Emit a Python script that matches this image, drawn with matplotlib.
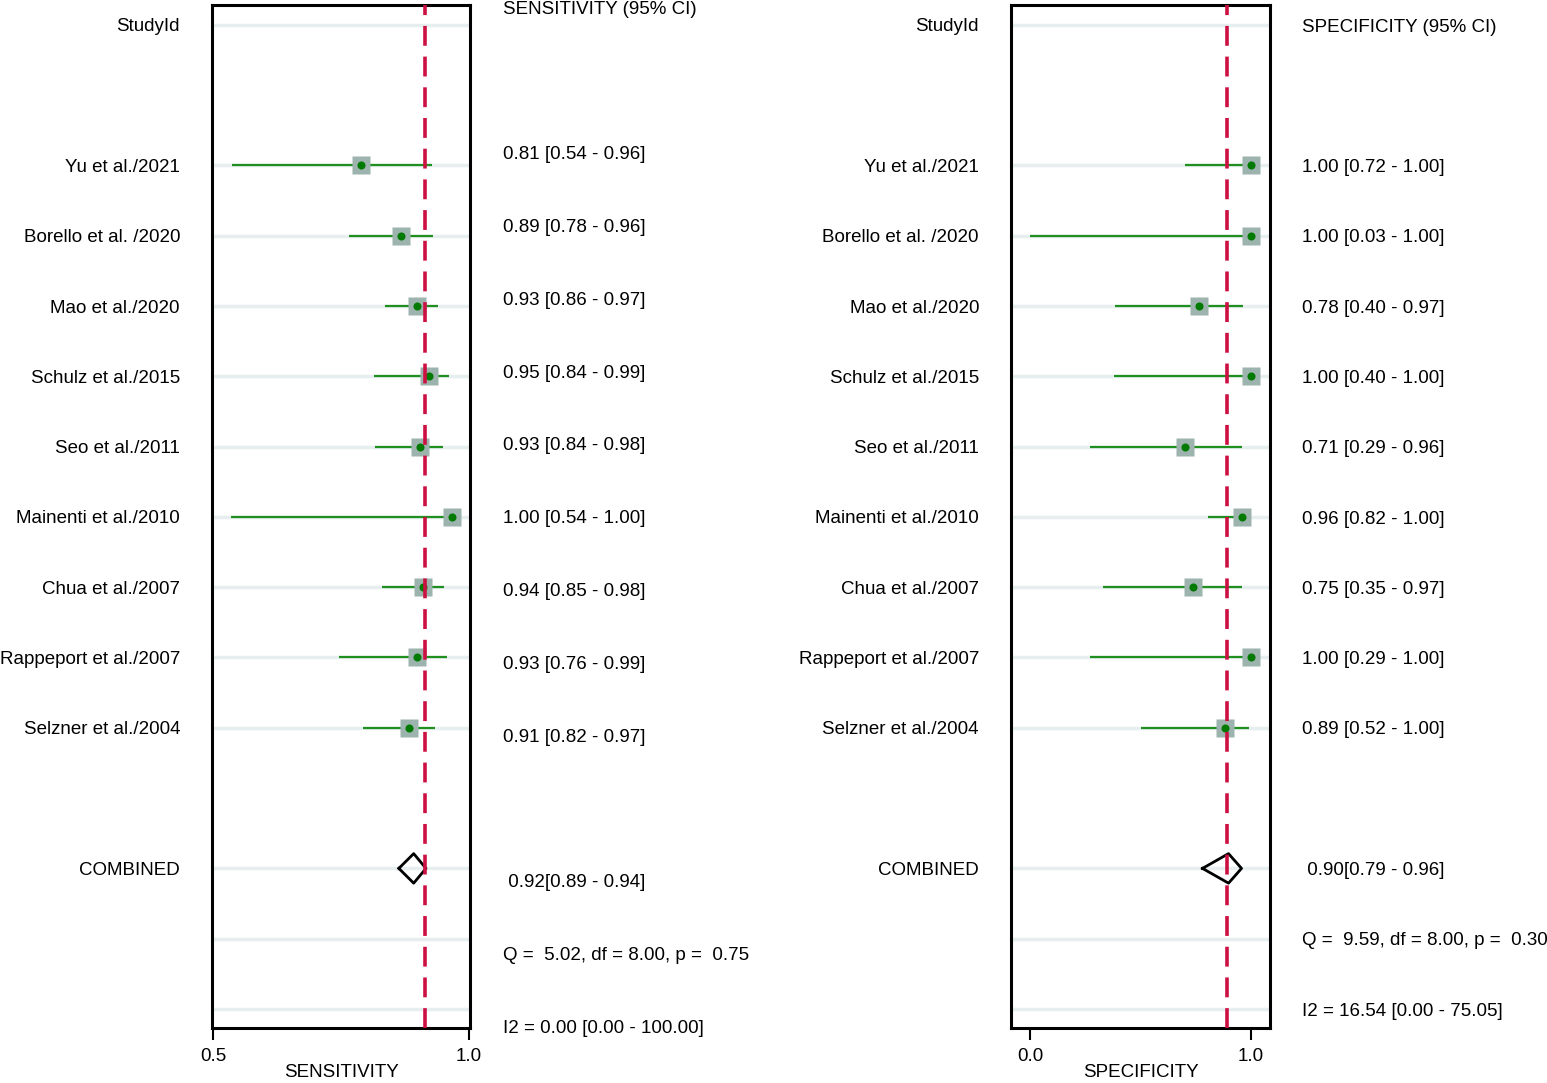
import numpy as np
import matplotlib.pyplot as plt
from matplotlib.transforms import blended_transform_factory

plt.rcParams['font.family'] = ['Liberation Sans', 'DejaVu Sans']

studies = ["Yu et al./2021", "Borello et al. /2020", "Mao et al./2020",
           "Schulz et al./2015", "Seo et al./2011", "Mainenti et al./2010",
           "Chua et al./2007", "Rappeport et al./2007", "Selzner et al./2004"]

# plotted positions
sens_pt = [0.790, 0.867, 0.899, 0.922, 0.904, 0.966, 0.910, 0.899, 0.882]
sens_lo = [0.538, 0.765, 0.835, 0.815, 0.817, 0.535, 0.830, 0.746, 0.793]
sens_hi = [0.927, 0.929, 0.939, 0.961, 0.949, 0.970, 0.951, 0.958, 0.934]
sens_pool = [0.863, 0.892, 0.916]
sens_ref = 0.915

spec_pt = [1.00, 1.00, 0.767, 1.00, 0.703, 0.959, 0.739, 1.00, 0.882]
spec_lo = [0.704, 0.00, 0.384, 0.381, 0.272, 0.808, 0.331, 0.272, 0.504]
spec_hi = [1.00, 1.00, 0.965, 1.00, 0.959, 1.00, 0.963, 1.00, 0.992]
spec_pool = [0.782, 0.900, 0.959]
spec_ref = 0.895

# printed labels
sens_txt = ["0.81 [0.54 - 0.96]", "0.89 [0.78 - 0.96]", "0.93 [0.86 - 0.97]",
            "0.95 [0.84 - 0.99]", "0.93 [0.84 - 0.98]", "1.00 [0.54 - 1.00]",
            "0.94 [0.85 - 0.98]", "0.93 [0.76 - 0.99]", "0.91 [0.82 - 0.97]"]
spec_txt = ["1.00 [0.72 - 1.00]", "1.00 [0.03 - 1.00]", "0.78 [0.40 - 0.97]",
            "1.00 [0.40 - 1.00]", "0.71 [0.29 - 0.96]", "0.96 [0.82 - 1.00]",
            "0.75 [0.35 - 0.97]", "1.00 [0.29 - 1.00]", "0.89 [0.52 - 1.00]"]
sens_stats = [" 0.92[0.89 - 0.94]", "Q =  5.02, df = 8.00, p =  0.75",
              "I2 = 0.00 [0.00 - 100.00]"]
spec_stats = [" 0.90[0.79 - 0.96]", "Q =  9.59, df = 8.00, p =  0.30",
              "I2 = 16.54 [0.00 - 75.05]"]

W, H = 1547, 1083
FS = 13.5
fig = plt.figure(figsize=(W / 100, H / 100), dpi=100)

rows = np.arange(2, 11)
grid_rows = [0] + list(rows) + [12, 13, 14]


def panel(x0, x1, xlim, ticks, ticklabels, xlabel, pt, lo, hi, pool, ref,
          header, txt, stats, lab_x, txt_x, txt_rows):
    ax = fig.add_axes([x0 / W, 1 - 1028 / H, (x1 - x0) / W, 1023 / H])
    ax.set_xlim(*xlim)
    ax.set_ylim(14.27, -0.28)
    for r in grid_rows:
        ax.axhline(r, color="#e6eef0", lw=2.5, zorder=0)
    ax.hlines(rows, lo, hi, color="#1f8f1f", lw=1.6, zorder=2)
    ax.plot(pt, rows, "s", ms=12.8, color="#9db3ae", mec="none", zorder=3)
    ax.plot(pt, rows, "o", ms=5.8, color="#007a00", mec="none", zorder=4)
    d = 0.21
    ax.plot([pool[0], pool[1], pool[2], pool[1], pool[0]],
            [12, 12 - d, 12, 12 + d, 12], color="black", lw=2, zorder=4)
    ax.axvline(ref, color="#cc1042", lw=2.6, dashes=(5.5, 3), zorder=5)
    ax.set_yticks([])
    ax.set_xticks(ticks)
    ax.set_xticklabels(ticklabels, fontsize=FS)
    ax.tick_params(axis="x", length=8.5, width=1.5, pad=6, color="black")
    for s in ax.spines.values():
        s.set_linewidth(2.2)
    ax.set_xlabel(xlabel, fontsize=FS, labelpad=-1)

    tr = blended_transform_factory(fig.transFigure, ax.transData)
    off = 0.03
    ax.text(lab_x / W, off, "StudyId", transform=tr, ha="right",
            va="center", fontsize=FS)
    for r, s in zip(rows, studies):
        ax.text(lab_x / W, r + off, s, transform=tr, ha="right",
                va="center", fontsize=FS)
    ax.text(lab_x / W, 12 + off, "COMBINED", transform=tr, ha="right",
            va="center", fontsize=FS)

    all_txt = [header] + txt + stats
    for yp, s in zip(txt_rows, all_txt):
        fig.text(txt_x / W, 1 - (yp + 2) / H, s, ha="left", va="center",
                 fontsize=FS)
    return ax


left_rows = [7 + 72.8 * k for k in [0] + list(range(2, 11)) + [12, 13, 14]]
right_rows = [25 + 70.3 * k for k in [0] + list(range(2, 11)) + [12, 13, 14]]

panel(212, 470, (0.498, 1.002), [0.5, 1.0], ["0.5", "1.0"], "SENSITIVITY",
      sens_pt, sens_lo, sens_hi, sens_pool, sens_ref,
      "SENSITIVITY (95% CI)", sens_txt, sens_stats, 180, 503, left_rows)
panel(1011, 1270, (-0.086, 1.088), [0.0, 1.0], ["0.0", "1.0"], "SPECIFICITY",
      spec_pt, spec_lo, spec_hi, spec_pool, spec_ref,
      "SPECIFICITY (95% CI)", spec_txt, spec_stats, 979, 1302, right_rows)

fig.savefig("out.png", dpi=100)
